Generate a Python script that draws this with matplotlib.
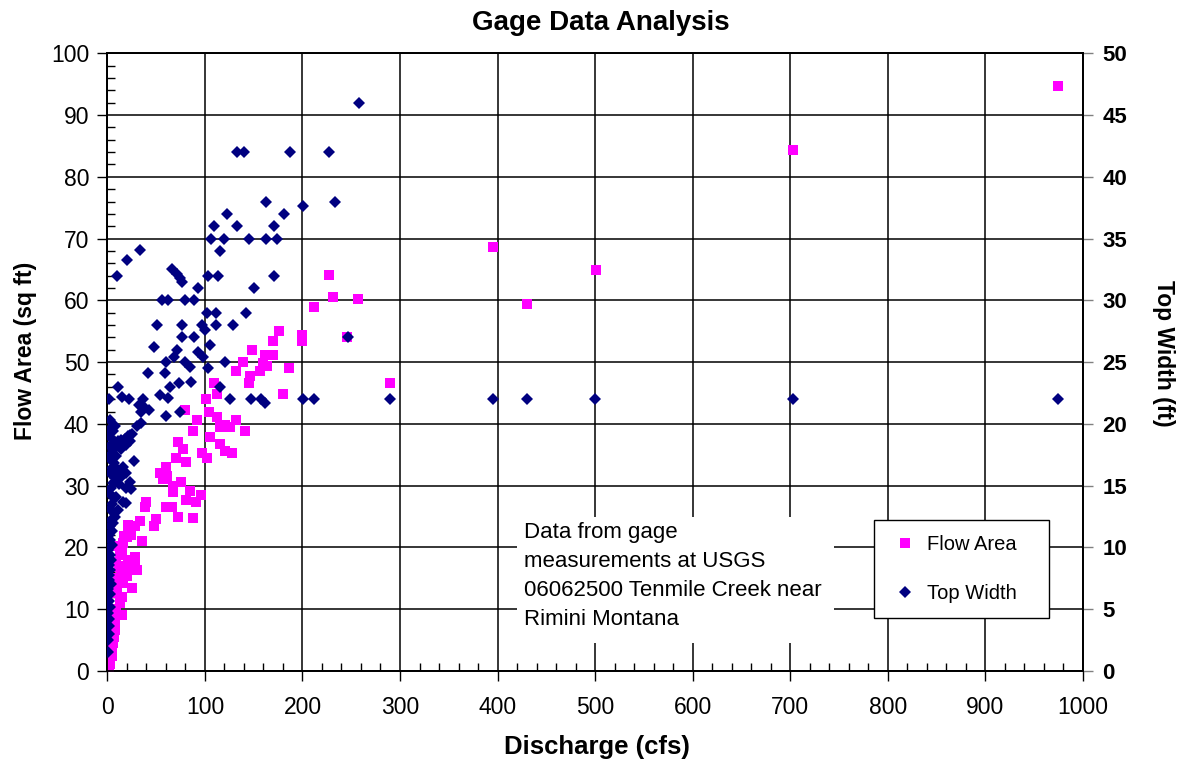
import matplotlib.pyplot as plt
from matplotlib.patches import Rectangle
from matplotlib.lines import Line2D
from matplotlib.ticker import MultipleLocator

plt.rcParams['font.family'] = ['Liberation Sans', 'DejaVu Sans']

# Flow area measurements: discharge (cfs) vs area (sq ft)
area_q = [974, 703, 395, 501, 430, 290,
          227, 231, 257, 246, 212, 200, 200,
          186, 180, 176, 170, 148, 162, 170,
          139, 160, 164, 132, 157, 146, 145,
          109, 112, 101, 80, 104, 92, 112,
          132, 121, 126, 116, 141, 88, 105,
          72, 116, 78, 97, 102, 121, 128,
          70, 81, 60, 54, 57, 61, 76, 67, 67,
          85, 96, 81, 91, 40, 39, 60,
          66, 72, 88, 50, 48, 33, 21,
          28, 21, 20, 36, 16, 15, 28,
          28, 30, 21, 23, 20, 16, 25,
          15, 13, 15, 8, 8, 6, 4.5, 1, 1,
          2, 3, 5, 4, 7, 6, 9, 10, 8, 11, 12, 9, 13, 11, 17, 24, 18, 14, 7, 5, 3, 2]
area = [94.7, 84.3, 68.6, 64.9, 59.4, 46.6,
        64.1, 60.5, 60.2, 54.0, 59.0, 53.5, 54.4,
        49.0, 44.8, 55.1, 53.4, 52.0, 51.2, 51.2,
        50.0, 49.8, 49.3, 48.5, 48.6, 47.8, 46.7,
        46.6, 44.8, 44.1, 42.3, 42.0, 40.6, 41.1,
        40.6, 39.8, 39.5, 39.5, 38.9, 38.9, 37.9,
        37.0, 36.7, 35.9, 35.3, 34.4, 35.6, 35.3,
        34.4, 33.9, 33.1, 32.0, 31.0, 31.5, 30.6, 30.0, 29.0,
        29.1, 28.5, 27.7, 27.4, 27.4, 26.5, 26.5,
        26.5, 25.0, 24.7, 24.6, 23.4, 24.2, 23.6,
        23.4, 22.6, 21.7, 21.1, 20.7, 19.6, 18.5,
        17.4, 16.4, 18.0, 16.4, 15.3, 14.2, 13.4,
        12.0, 11.0, 9.1, 7.7, 6.6, 4.5, 3.4, 1.8, 0.7,
        0.3, 1.2, 2.5, 5.2, 5.5, 8.4, 10.0, 12.6, 13.5, 15.0, 16.8, 17.6, 18.8, 20.2, 21.8, 22.0, 17.0, 16.0, 9.5, 7.0, 3.0, 4.0]

# Top width measurements: discharge (cfs) vs width (ft)
width_q = [974, 703, 500, 430, 395, 290, 212, 201,
           258, 133, 140, 187, 227,
           233, 201, 163, 181, 123,
           109, 133, 171,
           106, 120, 145, 163, 174, 116,
           33, 20, 10,
           66, 71, 74, 77,
           103, 113, 171,
           93, 150,
           56, 62, 80, 89,
           102, 111, 142,
           51, 77, 97, 111, 129, 100,
           77, 89, 105, 247,
           48, 71, 68, 93, 98,
           60, 80, 85, 103, 121,
           42, 59, 86, 73, 64, 115, 11,
           54, 62, 2, 15, 22, 37, 126, 147, 158, 162,
           32, 38, 43, 35, 74, 60, 2.5, 35, 30,
           25, 21, 23, 18, 14, 11, 7.5, 4, 23, 19.5, 14,
           27, 11, 16, 19.5, 23, 19.5, 24.6, 13, 12, 9, 16, 19.5, 11, 7.6, 6,
           0.5, 1, 2, 1.5, 2, 1, 3, 1.5, 2.5, 1, 3.5, 2, 1.5, 3, 2, 4, 2.5, 1,
           4.5, 3, 2, 5, 3, 4, 6.5, 3, 5, 7, 2, 4, 6, 8, 3, 5, 7, 2, 4, 6, 9,
           3, 5, 1, 3, 6, 8]
width = [22, 22, 22, 22, 22, 22, 22, 22,
         46, 42, 42, 42, 42,
         38, 37.6, 38, 37, 37,
         36, 36, 36,
         35, 35, 35, 35, 35, 34,
         34.1, 33.3, 32,
         32.5, 32.1, 31.8, 31.5,
         32, 32, 32,
         31, 31,
         30, 30, 30, 30,
         29, 29, 29,
         28, 28, 28, 28, 28, 27.6,
         27, 27, 26.4, 27,
         26.2, 26, 25.4, 25.8, 25.4,
         25, 25, 24.6, 24.5, 25,
         24.1, 24.1, 23.4, 23.3, 23, 23, 23,
         22.3, 22.1, 22, 22.2, 22, 22, 22, 22, 22, 21.7,
         21.5, 21.4, 21.1, 21, 21, 20.6, 20.3, 20.1, 19.8,
         19.2, 19.0, 19.1, 18.8, 18.7, 18.6, 18.4, 18.3, 18.6, 18.3, 18.0,
         17.0, 16.3, 16.5, 16.0, 15.3, 14.8, 14.7, 15.6, 15.1, 14.1, 13.7, 13.6, 13.0, 12.5, 12.0,
         1.5, 2.5, 3, 3.6, 4.2, 4.7, 5.2, 5.7, 6.2, 6.6, 7, 7.4, 7.8, 8.2, 8.6, 9, 9.4, 9.8,
         10.2, 10.6, 11, 11.3, 11.7, 12.2, 12.8, 13.1, 13.5, 14, 14.4, 14.8, 15.2, 15.6, 16, 16.4, 16.8, 17.2, 17.6, 17.9, 17.4,
         18.2, 18.8, 19.2, 19.6, 19.4, 19.8]

note = "Data from gage\nmeasurements at USGS\n06062500 Tenmile Creek near\nRimini Montana"

pink = '#FF00FF'
navy = '#000080'

fig = plt.figure(figsize=(11.78, 7.67), dpi=100)
ax = fig.add_axes([0.0911, 0.1252, 0.8282, 0.8053])
ax2 = ax.twinx()

ax.plot(area_q, area, 's', color=pink, markersize=7.2, markeredgewidth=0, zorder=3)
ax2.plot(width_q, width, 'D', color=navy, markersize=6.2, markeredgewidth=0, zorder=3)

ax.set_xlim(0, 1000)
ax.set_ylim(0, 100)
ax2.set_ylim(0, 50)

ax.xaxis.set_major_locator(MultipleLocator(100))
ax.xaxis.set_minor_locator(MultipleLocator(20))
ax.yaxis.set_major_locator(MultipleLocator(10))
ax.yaxis.set_minor_locator(MultipleLocator(2))
ax2.yaxis.set_major_locator(MultipleLocator(5))

ax.grid(True, which='major', color='black', linewidth=1.1)
ax.tick_params(which='major', direction='out', length=7, width=1, labelsize=16.5)
ax.tick_params(axis='x', which='major', pad=11)
ax.tick_params(axis='y', which='major', pad=6)
ax.tick_params(which='minor', direction='in', length=6, width=1)
ax2.tick_params(which='major', direction='out', length=7, width=1, color='#808080',
                labelsize=16, pad=7)
for lab in ax2.get_yticklabels():
    lab.set_fontweight('bold')

for a in (ax, ax2):
    for s in a.spines.values():
        s.set_color('black')
        s.set_linewidth(1.3)

ax.set_xlabel('Discharge (cfs)', fontsize=18.5, fontweight='bold')
ax.xaxis.set_label_coords(0.502, -0.104)
ax.set_ylabel('Flow Area (sq ft)', fontsize=16.5, fontweight='bold')
ax.yaxis.set_label_coords(-0.072, 0.518)
ax2.set_ylabel('Top Width (ft)', fontsize=16.5, fontweight='bold', rotation=270)
ax2.yaxis.set_label_coords(1.094, 0.514)

fig.text(601 / 1178, 1 - 23 / 767, 'Gage Data Analysis', ha='center', va='center',
         fontsize=20, fontweight='bold')

# white note box over the grid
ax.add_patch(Rectangle((517 / 1178, 1 - 643 / 767), 317 / 1178, 126 / 767,
                       transform=fig.transFigure, facecolor='white', edgecolor='none', zorder=2))
fig.text(524 / 1178, 1 - 522 / 767, note, ha='left', va='top', fontsize=16, linespacing=1.5)

handles = [Line2D([], [], marker='s', color=pink, linestyle='none', markersize=7.2, markeredgewidth=0),
           Line2D([], [], marker='D', color=navy, linestyle='none', markersize=6.2, markeredgewidth=0)]
leg = ax2.legend(handles, ['Flow Area', 'Top Width'], loc='upper left',
                 bbox_to_anchor=(874 / 1178, 0.322 - 0.2, 175 / 1178, 0.2),
                 bbox_transform=fig.transFigure, mode='expand', borderaxespad=0,
                 fontsize=14.5, frameon=True, fancybox=False, framealpha=1,
                 edgecolor='black', borderpad=0.75, labelspacing=1.5,
                 handlelength=1.6, handletextpad=0.3)
leg.get_frame().set_linewidth(1)

fig.savefig('out.png', dpi=100)
